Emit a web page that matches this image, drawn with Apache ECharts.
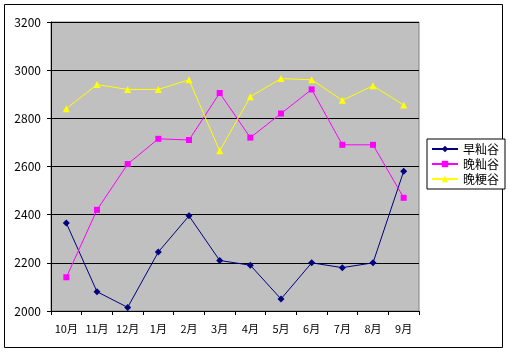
<!DOCTYPE html>
<html>
<head>
<meta charset="utf-8">
<script src="https://cdn.jsdelivr.net/npm/echarts@6/dist/echarts.min.js"></script>
<style>
  html, body { margin: 0; padding: 0; background: #fff; }
  #chart { width: 511px; height: 353px; }
</style>
</head>
<body>
<div id="chart"></div>
<script>
const months = ['10月', '11月', '12月', '1月', '2月', '3月', '4月', '5月', '6月', '7月', '8月', '9月']
const earlyIndica = [2365, 2080, 2015, 2245, 2395, 2210, 2190, 2050, 2200, 2180, 2200, 2580]
const lateIndica = [2140, 2420, 2610, 2715, 2710, 2905, 2720, 2820, 2920, 2690, 2690, 2470]
const lateJaponica = [2840, 2940, 2920, 2920, 2960, 2665, 2890, 2965, 2960, 2875, 2935, 2855]

const FONT = '"Noto Sans CJK SC", sans-serif'
const textStyle = { fontFamily: FONT, fontSize: 11, color: '#000' }

const mkSeries = (name, data, color, symbol, size) => ({
  name,
  type: 'line',
  data,
  symbol,
  symbolSize: size,
  showAllSymbol: true,
  lineStyle: { color, width: 1 },
  itemStyle: { color },
  emphasis: { disabled: true },
})

const chart = echarts.init(document.getElementById('chart'))
chart.setOption({
  animation: false,
  backgroundColor: '#fff',
  textStyle,
  graphic: [{
    type: 'rect',
    shape: { x: 4.5, y: 4.5, width: 498, height: 343 },
    style: { fill: 'none', stroke: '#000', lineWidth: 1 },
    silent: true,
  }],
  grid: {
    left: 51, top: 22, width: 368, height: 289,
    show: true, backgroundColor: '#c0c0c0', borderColor: '#808080', borderWidth: 1,
  },
  legend: {
    orient: 'vertical',
    left: 427, top: 139,
    padding: [4, 6, 4, 4],
    itemGap: 3,
    itemWidth: 26,
    itemHeight: 8,
    borderColor: '#000',
    borderWidth: 1,
    backgroundColor: '#fff',
    textStyle: { ...textStyle, fontSize: 12 },
    data: ['早籼谷', '晚籼谷', '晚粳谷'],
  },
  xAxis: {
    type: 'category',
    data: months,
    boundaryGap: true,
    axisLine: { lineStyle: { color: '#000' } },
    axisTick: { show: true, length: 4, interval: 0, lineStyle: { color: '#000' } },
    axisLabel: { ...textStyle, fontSize: 11, margin: 12, interval: 0, hideOverlap: false },
  },
  yAxis: {
    type: 'value',
    min: 2000, max: 3200, interval: 200,
    axisLine: { show: true, lineStyle: { color: '#000' } },
    axisTick: { show: true, length: 4, lineStyle: { color: '#000' } },
    axisLabel: { ...textStyle, fontSize: 12, margin: 10, formatter: v => String(v) },
    splitLine: { lineStyle: { color: '#000', width: 1 } },
  },
  series: [
    mkSeries('早籼谷', earlyIndica, '#000080', 'diamond', 7),
    mkSeries('晚籼谷', lateIndica, '#ff00ff', 'rect', 6),
    mkSeries('晚粳谷', lateJaponica, '#ffff00', 'triangle', 7),
  ],
})
</script>
</body>
</html>
